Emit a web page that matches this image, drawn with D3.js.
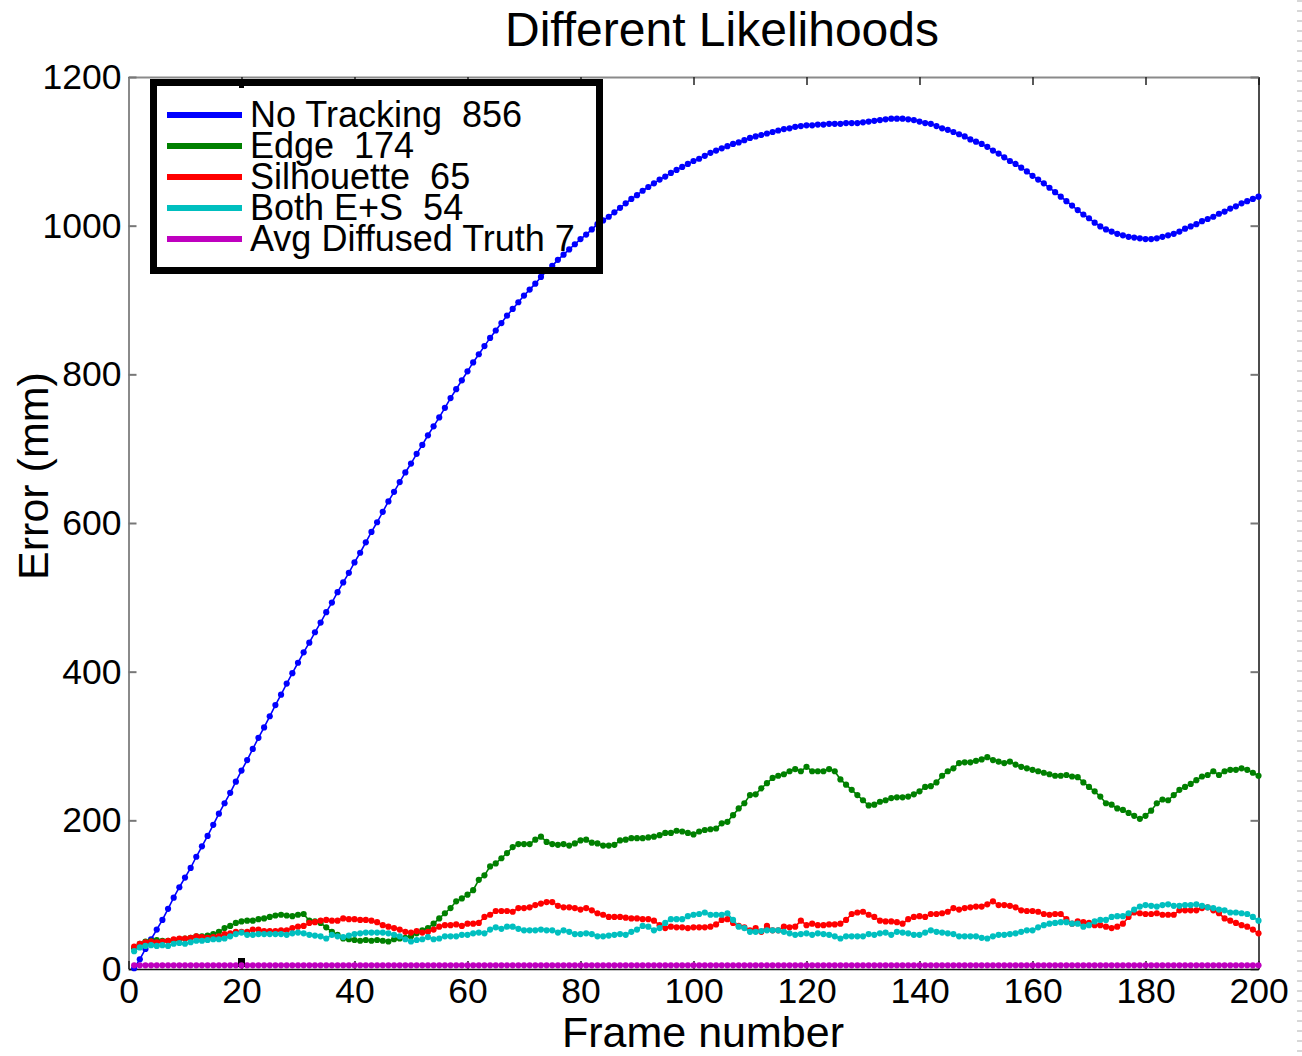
<!DOCTYPE html>
<html>
<head>
<meta charset="utf-8">
<script src="https://cdn.jsdelivr.net/npm/d3@7"></script>
<style>
  body { margin: 0; background: #fff; }
  text { font-family: "Liberation Sans", Arial, sans-serif; fill: #000; }
  .legend text { white-space: pre; }
</style>
</head>
<body>
<div class="chart"></div>
<script>
var svgWidth = 1302;
var svgHeight = 1056;

// frame numbers 1..200
var frames = d3.range(1, 201);

var xTicks = [0, 20, 40, 60, 80, 100, 120, 140, 160, 180, 200];
var yTicks = [0, 200, 400, 600, 800, 1000, 1200];

var seriesNames = ["No Tracking  856", "Edge  174", "Silhouette  65", "Both E+S  54", "Avg Diffused Truth 7"];
var seriesColors = ["#0000ff", "#008000", "#ff0000", "#00bfbf", "#bf00bf"];

var noTracking = [
  1,13,27,40,53,66,81,96,110,123,
  136,151,165,179,194,209,223,237,252,267,
  281,296,311,325,340,355,369,384,398,412,
  426,439,453,466,480,493,507,520,533,547,
  560,574,588,601,615,629,642,655,668,680,
  693,705,718,730,742,755,768,780,792,804,
  816,827,838,849,859,869,879,888,897,906,
  914,922,931,939,946,954,961,968,975,982,
  988,995,1002,1007,1012,1018,1024,1030,1036,1041,
  1047,1052,1057,1062,1066,1071,1075,1079,1083,1087,
  1090,1094,1098,1101,1104,1107,1110,1112,1115,1118,
  1120,1122,1124,1126,1128,1130,1131,1133,1134,1135,
  1135,1136,1136,1137,1137,1137,1138,1138,1138,1139,
  1140,1141,1142,1143,1144,1144,1144,1143,1142,1140,
  1138,1137,1134,1131,1129,1126,1123,1120,1116,1113,
  1110,1106,1101,1097,1092,1087,1083,1078,1073,1067,
  1062,1057,1051,1045,1039,1033,1027,1021,1015,1010,
  1004,999,995,992,989,987,985,984,983,982,
  982,983,985,987,989,992,996,999,1002,1006,
  1009,1012,1016,1019,1023,1026,1030,1033,1036,1039
];

var edge = [
  28,34,37,38,39,38,38,39,40,41,
  42,44,44,45,47,50,55,58,62,64,
  65,65,67,68,70,72,73,72,71,73,
  74,65,64,62,56,50,46,41,40,39,
  38,39,38,39,38,37,40,41,42,44,
  48,52,55,61,68,75,82,91,95,100,
  106,120,126,138,142,149,156,164,168,168,
  168,174,178,171,168,167,168,166,169,173,
  174,170,169,166,166,167,173,174,176,176,
  176,177,178,180,183,183,186,185,183,181,
  185,187,188,189,196,198,207,216,223,234,
  235,243,250,257,260,262,266,269,266,272,
  266,266,266,269,266,255,248,241,234,227,
  220,221,225,227,230,231,231,232,235,239,
  245,246,251,260,266,270,277,278,278,280,
  282,285,281,279,277,279,275,272,270,268,
  266,264,262,260,260,261,259,258,251,245,
  239,232,223,221,216,214,210,206,202,206,
  213,223,228,227,234,241,245,249,254,259,
  261,266,261,266,268,268,270,268,264,260
];

var silhouette = [
  30,34,36,37,36,37,38,40,41,41,
  42,44,43,42,43,44,47,48,50,50,
  50,53,53,51,51,51,52,52,55,57,
  58,62,63,65,66,65,65,68,67,67,
  66,66,65,63,59,57,55,53,50,49,
  51,49,50,53,57,59,59,60,58,61,
  61,62,70,73,78,78,78,77,82,82,
  83,86,88,90,90,85,83,83,82,80,
  82,79,75,73,70,70,70,69,68,68,
  67,67,65,59,55,57,56,56,55,56,
  56,56,57,60,66,67,62,58,56,52,
  55,50,58,52,52,57,56,57,65,59,
  61,59,59,60,60,61,66,74,76,77,
  73,70,65,64,64,63,61,67,70,71,
  70,74,74,75,77,82,80,82,83,84,
  84,87,91,86,86,85,83,79,78,78,
  77,74,73,74,74,67,61,64,63,62,
  59,59,57,55,57,61,70,76,75,74,
  74,75,73,73,73,79,79,79,79,82,
  83,79,75,68,65,62,59,57,53,48
];

var bothES = [
  24,29,31,32,31,32,31,34,35,34,
  36,38,38,39,40,40,41,44,47,49,
  46,46,47,47,47,47,47,46,48,49,
  48,46,45,44,41,46,44,43,45,47,
  48,49,49,49,49,48,46,44,40,37,
  39,40,43,40,41,44,44,44,46,46,
  48,49,48,53,56,54,57,57,54,52,
  52,52,53,52,52,49,52,50,47,47,
  48,47,44,44,45,46,47,46,50,53,
  58,57,52,55,62,67,67,67,71,73,
  74,76,73,73,73,75,66,57,55,50,
  50,51,52,52,52,50,48,46,47,48,
  46,48,47,46,44,41,44,44,44,44,
  47,46,48,49,46,50,49,48,46,46,
  49,52,50,49,48,47,44,44,44,44,
  42,41,44,46,46,47,48,50,52,52,
  56,59,61,62,63,63,61,61,57,59,
  64,66,66,70,71,71,75,80,84,86,
  85,84,86,87,85,85,86,86,87,85,
  83,82,80,79,76,76,75,74,70,65
];

var diffusedTruth = [
  5,5,5,5,5,5,5,5,5,5,5,5,5,5,5,5,5,5,5,5,
  5,5,5,5,5,5,5,5,5,5,5,5,5,5,5,5,5,5,5,5,
  5,5,5,5,5,5,5,5,5,5,5,5,5,5,5,5,5,5,5,5,
  5,5,5,5,5,5,5,5,5,5,5,5,5,5,5,5,5,5,5,5,
  5,5,5,5,5,5,5,5,5,5,5,5,5,5,5,5,5,5,5,5,
  5,5,5,5,5,5,5,5,5,5,5,5,5,5,5,5,5,5,5,5,
  5,5,5,5,5,5,5,5,5,5,5,5,5,5,5,5,5,5,5,5,
  5,5,5,5,5,5,5,5,5,5,5,5,5,5,5,5,5,5,5,5,
  5,5,5,5,5,5,5,5,5,5,5,5,5,5,5,5,5,5,5,5,
  5,5,5,5,5,5,5,5,5,5,5,5,5,5,5,5,5,5,5,5
];

var allSeries = [noTracking, edge, silhouette, bothES, diffusedTruth];

var svg = d3.select(".chart")
  .append("svg")
  .attr("width", svgWidth)
  .attr("height", svgHeight);

// plot box in pixels
var plotLeft = 128.5, plotRight = 1258.5, plotTop = 77, plotBottom = 969;

var xScale = d3.scaleLinear().domain([0, 200]).range([plotLeft, plotRight]);
var yScale = d3.scaleLinear().domain([0, 1200]).range([plotBottom, plotTop]);

// faint dashed strip at the right edge of the screenshot
svg.append("line")
  .attr("x1", 1299.5).attr("x2", 1299.5)
  .attr("y1", 0).attr("y2", svgHeight)
  .attr("stroke", "#d8d8d8")
  .attr("stroke-width", 5)
  .attr("stroke-dasharray", "2,8");

// axes, ticks pointing inward
var bottomAxis = d3.axisBottom(xScale).tickValues(xTicks).tickSizeInner(-8).tickSizeOuter(0).tickPadding(9).tickFormat(d3.format("d"));
var topAxis = d3.axisTop(xScale).tickValues(xTicks).tickSizeInner(-8).tickSizeOuter(0).tickFormat("");
var leftAxis = d3.axisLeft(yScale).tickValues(yTicks).tickSizeInner(-8).tickSizeOuter(0).tickPadding(7).tickFormat(d3.format("d"));
var rightAxis = d3.axisRight(yScale).tickValues(yTicks).tickSizeInner(-8).tickSizeOuter(0).tickFormat("");

var gTop = svg.append("g").attr("transform", `translate(0, ${plotTop})`).call(topAxis);
var gRight = svg.append("g").attr("transform", `translate(${plotRight}, 0)`).call(rightAxis);
var gLeft = svg.append("g").attr("transform", `translate(${plotLeft}, 0)`).call(leftAxis);
var gBottom = svg.append("g").attr("transform", `translate(0, ${plotBottom})`).call(bottomAxis);

gTop.select(".domain").attr("stroke", "#8a8a8a").attr("stroke-width", 2);
gTop.selectAll(".tick line").attr("stroke", "#222").attr("stroke-width", 1.5);
gLeft.select(".domain").attr("stroke", "#8a8a8a").attr("stroke-width", 2);
gLeft.selectAll(".tick line").attr("stroke", "#777").attr("stroke-width", 2);
gRight.select(".domain").attr("stroke", "#111").attr("stroke-width", 1.5);
gRight.selectAll(".tick line").attr("stroke", "#777").attr("stroke-width", 2);
gBottom.select(".domain").attr("stroke", "#111").attr("stroke-width", 1.5);
gBottom.selectAll(".tick line").attr("stroke", "#222").attr("stroke-width", 1.5);

[gLeft, gBottom].forEach(function(g) {
  g.selectAll("text")
    .attr("font-family", "Liberation Sans, Arial, sans-serif")
    .attr("font-size", 35.5)
    .attr("fill", "#000");
});

// series lines with a dot on every frame
var lineGen = d3.line()
  .x((d, i) => xScale(frames[i]))
  .y(d => yScale(d));

allSeries.forEach(function(vals, k) {
  var g = svg.append("g");
  g.append("path")
    .datum(vals)
    .attr("d", lineGen)
    .attr("fill", "none")
    .attr("stroke", seriesColors[k])
    .attr("stroke-width", 1.6);
  g.selectAll("circle")
    .data(vals)
    .enter()
    .append("circle")
    .attr("cx", (d, i) => xScale(frames[i]))
    .attr("cy", d => yScale(d))
    .attr("r", 3.1)
    .attr("fill", seriesColors[k]);
});

// small black marks at frame 20 seen in the original
svg.append("rect")
  .attr("x", xScale(20) - 3.5).attr("y", plotBottom - 11)
  .attr("width", 7).attr("height", 9)
  .attr("fill", "#000");
svg.append("rect")
  .attr("x", xScale(20) - 2.5).attr("y", plotTop + 5)
  .attr("width", 5).attr("height", 6)
  .attr("fill", "#000");
svg.append("circle")
  .attr("cx", xScale(20)).attr("cy", yScale(5))
  .attr("r", 3.1).attr("fill", seriesColors[4]);

// legend
var legend = svg.append("g").attr("class", "legend");
legend.append("rect")
  .attr("x", 153.5).attr("y", 82.5)
  .attr("width", 446).attr("height", 188)
  .attr("fill", "none")
  .attr("stroke", "#000")
  .attr("stroke-width", 7);

seriesNames.forEach(function(name, k) {
  var ly = 115 + k * 31;
  legend.append("line")
    .attr("x1", 167).attr("x2", 242)
    .attr("y1", ly).attr("y2", ly)
    .attr("stroke", seriesColors[k])
    .attr("stroke-width", 6);
  legend.append("text")
    .attr("x", 250)
    .attr("y", ly + 12)
    .attr("font-size", 36)
    .text(name);
});

// title and axis labels
svg.append("text")
  .attr("x", 722)
  .attr("y", 46)
  .attr("text-anchor", "middle")
  .attr("font-size", 48)
  .text("Different Likelihoods");

svg.append("text")
  .attr("x", 703)
  .attr("y", 1047)
  .attr("text-anchor", "middle")
  .attr("font-size", 43)
  .text("Frame number");

svg.append("text")
  .attr("transform", "translate(48, 476) rotate(-90)")
  .attr("text-anchor", "middle")
  .attr("font-size", 43)
  .text("Error (mm)");
</script>
</body>
</html>
